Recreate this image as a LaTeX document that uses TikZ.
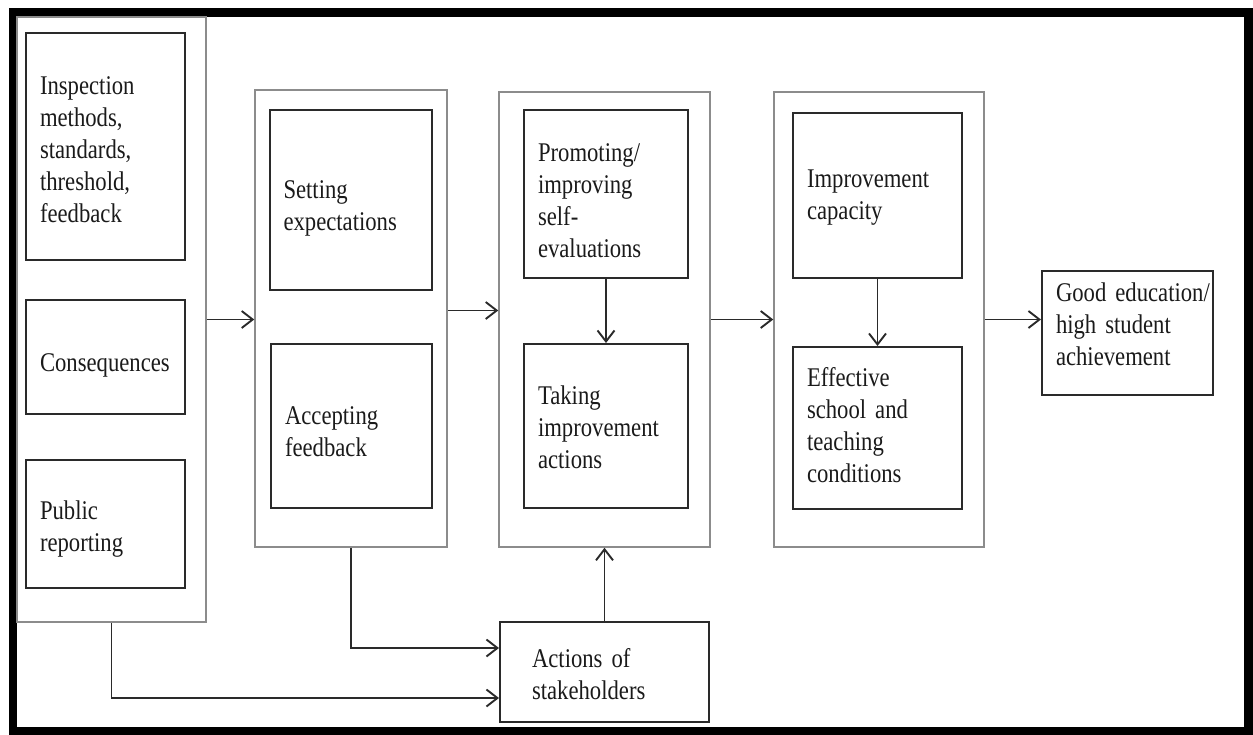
\documentclass[tikz,border=0pt]{standalone}
\usepackage{fontspec}
\setmainfont[FakeStretch=0.84]{Liberation Serif}
\usetikzlibrary{arrows.meta}
\definecolor{grpgray}{HTML}{8C8C8C}
\definecolor{boxgray}{HTML}{2A2A2A}
\definecolor{txt}{HTML}{1A1A1A}
\newcommand{\boxfont}{\fontsize{27}{32}\selectfont\hyphenpenalty=10000\relax\exhyphenpenalty=10000\relax\spaceskip=5.8pt plus 1pt minus 1pt\relax}
\begin{document}
\begin{tikzpicture}[x=1pt,y=-1pt,
  font=\boxfont,
  grp/.style={draw=grpgray, line width=1.5pt, inner sep=0pt},
  ibox/.style={draw=boxgray, line width=2pt, inner xsep=14pt, inner ysep=0pt, align=left, text=txt},
  arr/.style={draw=boxgray, line width=1.9pt, -{Straight Barb[length=11pt,width=17pt,line width=1.9pt]}}]
\useasboundingbox (0,0) rectangle (1253,734);
\draw[line width=8.5pt] (13,12.5) rectangle (1248.5,731);
% groups
\node[grp, minimum width=189pt, minimum height=605pt] (g1) at (111.5,319.5) {};
\node[grp, minimum width=192pt, minimum height=457pt] (g2) at (351,318.5) {};
\node[grp, minimum width=211pt, minimum height=455pt] (g3) at (604.5,319.5) {};
\node[grp, minimum width=210pt, minimum height=455pt] (g4) at (879,319.5) {};
% inner boxes
\node[ibox, minimum width=159pt, minimum height=227pt, text width=131pt, text height=24pt] (b1) at (105.5,146.5) {Inspection\\methods,\\standards,\\threshold,\\feedback};
\node[ibox, minimum width=159pt, minimum height=114pt, text width=131pt, text height=34pt] (b2) at (105.5,357) {Consequences};
\node[ibox, minimum width=159pt, minimum height=128pt, text width=131pt, text height=28pt] (b3) at (105.5,524) {Public\\reporting};
\node[ibox, minimum width=162pt, minimum height=180pt, text width=134pt, text height=34pt] (b4) at (350.5,200) {Setting\\expectations};
\node[ibox, minimum width=161pt, minimum height=164pt, text width=133pt, text height=30pt] (b5) at (351.5,426) {Accepting\\feedback};
\node[ibox, minimum width=164pt, minimum height=168pt, text width=136pt, text height=32pt] (b6) at (606,194) {Promoting/\\improving\\self-\\evaluations};
\node[ibox, minimum width=164pt, minimum height=164pt, text width=136pt, text height=22pt] (b7) at (606,426) {Taking\\improvement\\actions};
\node[ibox, minimum width=169pt, minimum height=165pt, text width=141pt, text height=22pt] (b8) at (877.5,195.5) {Improvement\\capacity};
\node[ibox, minimum width=169pt, minimum height=162pt, text width=141pt, text depth=102pt] (b9) at (877.5,428) {Effective\\\mbox{school and}\\teaching\\conditions};
\node[ibox, minimum width=171pt, minimum height=124pt, text width=143pt, text depth=82pt] (b10) at (1127.5,333) {\mbox{Good education/}\\\mbox{high student}\\achievement};
\node[ibox, inner xsep=32pt, minimum width=209pt, minimum height=100pt, text width=145pt, text height=24pt] (b11) at (604.5,672) {\mbox{Actions of}\\stakeholders};
% connectors
\draw[arr] (g1.east) -- (g1.east -| g2.west);
\draw[arr] ([yshift=8pt]g2.east) -- ([yshift=8pt]g2.east -| g3.west);
\draw[arr] (g3.east) -- (g3.east -| g4.west);
\draw[arr] (g4.east) -- (g4.east -| b10.west);
\draw[arr] (b6.south) -- (b7.north);
\draw[arr] (b8.south) -- (b9.north);
\draw[arr] (b11.north) -- (b11.north |- g3.south);
\draw[arr] (g2.south) |- ([yshift=24pt]b11.west);
\draw[arr] (g1.south) |- ([yshift=-26pt]b11.west);
\end{tikzpicture}
\end{document}
